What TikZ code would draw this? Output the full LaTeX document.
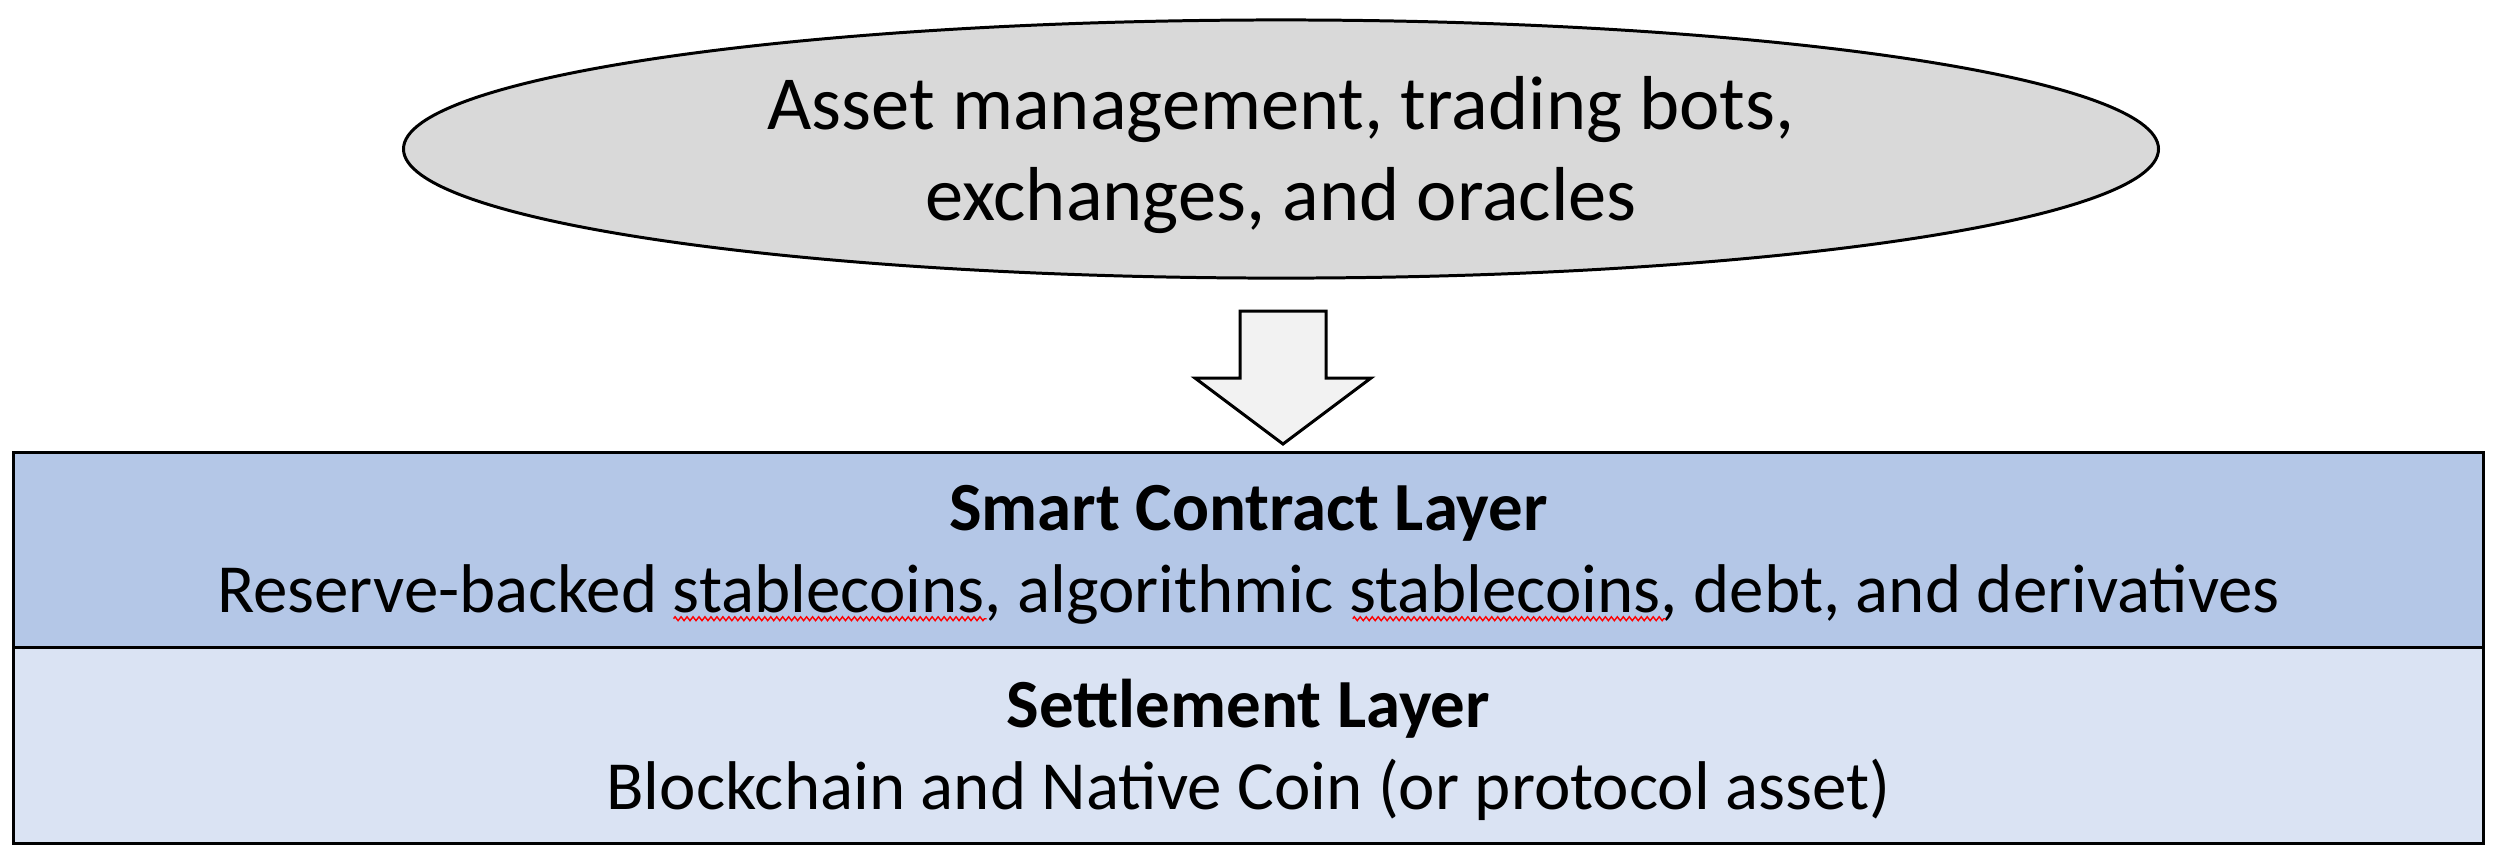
\documentclass[tikz,border=0pt]{standalone}
\usepackage{fontspec}
\setmainfont{Carlito}
\usetikzlibrary{shapes.geometric,decorations.pathmorphing}
\definecolor{ellfill}{HTML}{D9D9D9}
\definecolor{arrfill}{HTML}{F2F2F2}
\definecolor{scfill}{HTML}{B4C7E7}
\definecolor{stfill}{HTML}{DAE3F3}
\begin{document}
\begin{tikzpicture}[x=0.01cm,y=-0.01cm,
  ellipsebox/.style={ellipse, draw, line width=0.85pt, fill=ellfill, minimum width=17.54cm, minimum height=2.58cm, inner sep=0pt},
  layerbox/.style={rectangle, draw, line width=0.85pt, minimum width=24.69cm, minimum height=1.95cm, inner sep=0pt},
  bigtext/.style={anchor=base, font=\fontsize{21.75}{26}\selectfont, inner sep=0pt},
  boxtext/.style={anchor=base, font=\fontsize{19.6}{23}\selectfont, inner sep=0pt},
  boldtext/.style={boxtext, font=\fontsize{19.6}{23}\selectfont\bfseries},
  measure/.style={boxtext, anchor=base west},
  spellmark/.style={draw=red, line width=0.4pt, decorate, decoration={zigzag, amplitude=0.55pt, segment length=1.7pt}},
  blockarrow/.style={draw, line width=0.85pt, fill=arrfill, line join=miter}]
\useasboundingbox (0,0) rectangle (2500,856);
\node[ellipsebox] (apps) at (1281,149) {};
\node[bigtext] (appsA) at (1281,129) {Asset management, trading bots,};
\node[bigtext] (appsB) at (1281,220) {exchanges, and oracles};
\coordinate (tip) at (1283,444);
\draw[blockarrow] (tip) -- ++(-88,-66) -- ++(45,0) -- ++(0,-67) -- ++(86,0) -- ++(0,67) -- ++(45,0) -- cycle;
\node[layerbox, fill=scfill] (sc) at (1248.5,550) {};
\node[layerbox, fill=stfill] (st) at (1248.5,745.5) {};
\node[boldtext] (scT) at (1248.5,530) {Smart Contract Layer};
\node[boxtext] (scD) at (1248.5,612) {Reserve-backed stablecoins, algorithmic stablecoins, debt, and derivatives};
\node[measure] (m1) at (scD.base west) {\phantom{Reserve-backed\ }};
\node[measure] (w1) at (m1.base east) {\phantom{stablecoins}};
\node[measure] (m2) at (w1.base east) {\phantom{, algorithmic\ }};
\node[measure] (w2) at (m2.base east) {\phantom{stablecoins}};
\coordinate (w1a) at ([yshift=-1.9pt]w1.base west);
\coordinate (w1b) at ([yshift=-1.9pt]w1.base east);
\coordinate (w2a) at ([yshift=-1.9pt]w2.base west);
\coordinate (w2b) at ([yshift=-1.9pt]w2.base east);
\draw[spellmark] (w1a) -- (w1b);
\draw[spellmark] (w2a) -- (w2b);
\node[boldtext] (stT) at (1248.5,727) {Settlement Layer};
\node[boxtext] (stD) at (1248.5,809) {Blockchain and Native Coin (or protocol asset)};
\end{tikzpicture}
\end{document}
